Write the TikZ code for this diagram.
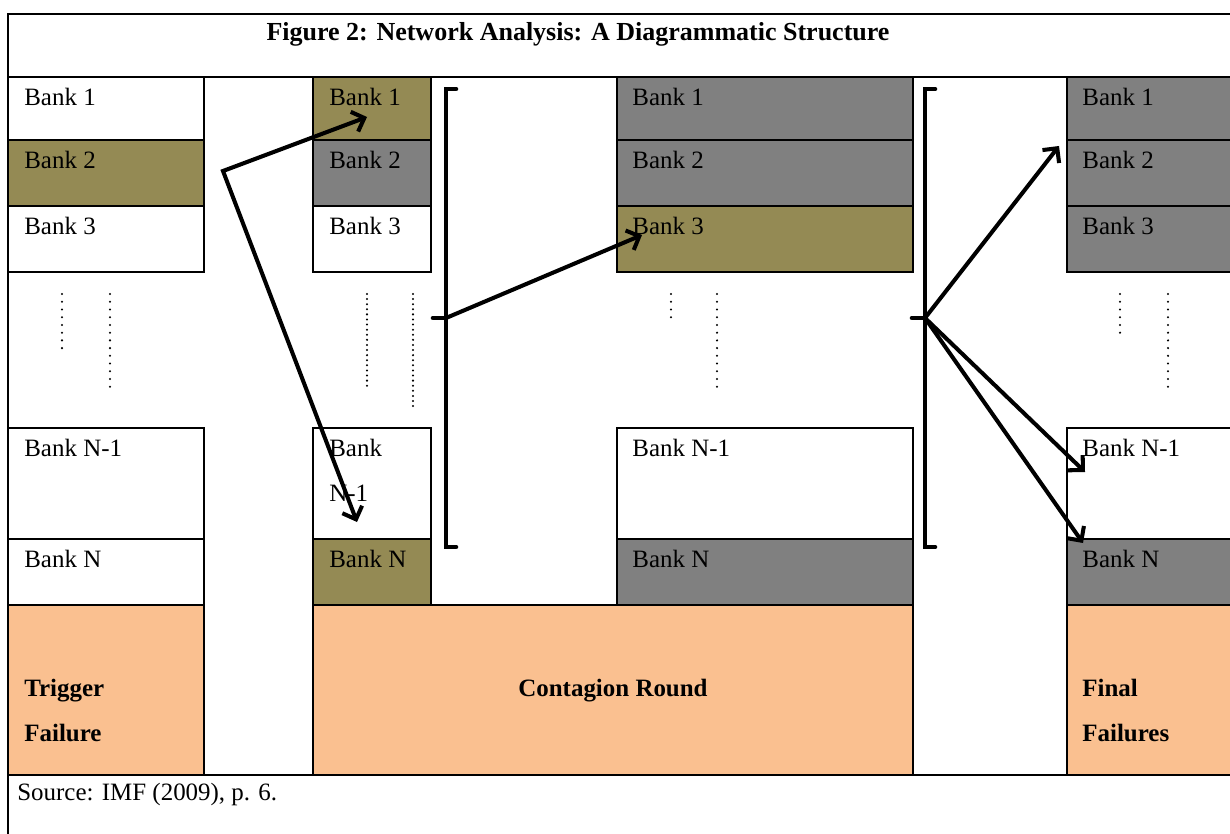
\documentclass[tikz,border=0pt]{standalone}
\usepackage{fontspec}
\setmainfont{Liberation Serif}
\usepackage{tikz}
\usetikzlibrary{arrows.meta,positioning}

\definecolor{olivecell}{HTML}{948A54}
\definecolor{graycell}{HTML}{808080}
\definecolor{peachcell}{HTML}{FAC090}
\newcommand{\banksize}{\fontsize{14.2}{25.6}\selectfont}

\begin{document}
\begin{tikzpicture}[
    x=0.02cm, y=-0.02cm,
    cell/.style={draw, line width=0.8pt},
    frame/.style={line width=0.85pt},
    btxt/.style={anchor=north west, inner sep=0pt, align=left, font=\banksize},
    stagetxt/.style={anchor=north west, inner sep=0pt, align=left, font=\banksize\bfseries},
    dotline/.style={line width=1.3pt, line cap=round, dash pattern=on 0pt off 4.4pt},
    densedot/.style={line width=1.3pt, line cap=round, dash pattern=on 0pt off 2.9pt},
    brk/.style={line width=2.6pt, line cap=round},
    arrow/.style={-{Straight Barb[length=6pt, width=12pt]}, line width=2.3pt}
]
    \clip (0,0) rectangle (1230,834);

    % column 1: trigger
    \draw[cell] (8,77) rectangle (204,140);
    \draw[cell, fill=olivecell] (8,140) rectangle (204,206);
    \draw[cell] (8,206) rectangle (204,272);
    \draw[cell] (8,428) rectangle (204,539);
    \draw[cell] (8,539) rectangle (204,605);
    \draw[cell, fill=peachcell] (8,605) rectangle (204,775);

    % column 2: first round
    \draw[cell, fill=olivecell] (313,77) rectangle (431,140);
    \draw[cell, fill=graycell] (313,140) rectangle (431,206);
    \draw[cell] (313,206) rectangle (431,272);
    \draw[cell] (313,428) rectangle (431,539);
    \draw[cell, fill=olivecell] (313,539) rectangle (431,605);
    \draw[cell, fill=peachcell] (313,605) rectangle (913,775);

    % column 3: second round
    \draw[cell, fill=graycell] (617,77) rectangle (913,140);
    \draw[cell, fill=graycell] (617,140) rectangle (913,206);
    \draw[cell, fill=olivecell] (617,206) rectangle (913,272);
    \draw[cell] (617,428) rectangle (913,539);
    \draw[cell, fill=graycell] (617,539) rectangle (913,605);

    % column 4: final
    \draw[cell, fill=graycell] (1067,77) rectangle (1245,140);
    \draw[cell, fill=graycell] (1067,140) rectangle (1245,206);
    \draw[cell, fill=graycell] (1067,206) rectangle (1245,272);
    \draw[cell] (1067,428) rectangle (1245,539);
    \draw[cell, fill=graycell] (1067,539) rectangle (1245,605);
    \draw[cell, fill=peachcell] (1067,605) rectangle (1245,775);

    % outer frame
    \draw[frame] (8,840) -- (8,14) -- (1240,14);
    \draw[frame] (8,77) -- (1240,77);
    \draw[frame] (8,775) -- (1240,775);

    \node[anchor=north, inner sep=0pt, font=\fontsize{14.8}{18}\selectfont\bfseries] (title) at (578,22) {Figure 2: Network Analysis: A Diagrammatic Structure};

    \node[btxt] (a1) at (24,88) {Bank 1};
    \node[btxt] (a2) at (24,151) {Bank 2};
    \node[btxt] (a3) at (24,217) {Bank 3};
    \node[btxt] (aN1) at (24,439) {Bank N-1};
    \node[btxt] (aN) at (24,550) {Bank N};

    \node[btxt] (b1) at (329,88) {Bank 1};
    \node[btxt] (b2) at (329,151) {Bank 2};
    \node[btxt] (b3) at (329,217) {Bank 3};
    \node[btxt] (bN1) at (329,439) {Bank\\N-1};
    \node[btxt] (bN) at (329,550) {Bank N};

    \node[btxt] (c1) at (632,88) {Bank 1};
    \node[btxt] (c2) at (632,151) {Bank 2};
    \node[btxt] (c3) at (632,217) {Bank 3};
    \node[btxt] (cN1) at (632,439) {Bank N-1};
    \node[btxt] (cN) at (632,550) {Bank N};

    \node[btxt] (d1) at (1082,88) {Bank 1};
    \node[btxt] (d2) at (1082,151) {Bank 2};
    \node[btxt] (d3) at (1082,217) {Bank 3};
    \node[btxt] (dN1) at (1082,439) {Bank N-1};
    \node[btxt] (dN) at (1082,550) {Bank N};

    \node[stagetxt] (trigger) at (24,679) {Trigger\\Failure};
    \node[anchor=north, inner sep=0pt, font=\banksize\bfseries] (round) at (613,679) {Contagion Round};
    \node[stagetxt] (final) at (1082,679) {Final\\Failures};

    \node[btxt] (source) at (17,783) {Source: IMF (2009), p. 6.};

    % vertical dots
    \draw[dotline] (62,294) -- (62,355);
    \draw[dotline] (110,294) -- (110,394);
    \draw[densedot] (367,294) -- (367,389);
    \draw[densedot] (413,294) -- (413,408);
    \draw[dotline] (671,294) -- (671,322);
    \draw[dotline] (717,294) -- (717,393);
    \draw[dotline] (1120,294) -- (1120,340);
    \draw[dotline] (1168,294) -- (1168,393);

    % brackets
    \coordinate (brkA) at (446,318);
    \coordinate (brkB) at (925,318);
    \draw[brk] (456,89) -- (446,89) -- (446,547) -- (456,547);
    \draw[brk] (433,318) -- (brkA);
    \draw[brk] (935,89) -- (925,89) -- (925,547) -- (935,547);
    \draw[brk] (912,318) -- (brkB);

    % contagion arrows
    \coordinate (fork) at (223,171);
    \coordinate (hitB1) at (367,117);
    \coordinate (hitBN) at (357,522);
    \coordinate (hitC3) at (642,235);
    \coordinate (hitD2) at (1059,146);
    \coordinate (hitDN1) at (1085,472);
    \coordinate (hitDN) at (1083,543);

    \draw[arrow, {Straight Barb[length=6pt, width=12pt]}-{Straight Barb[length=6pt, width=12pt]}] (hitB1) -- (fork) -- (hitBN);
    \draw[arrow] (brkA) -- (hitC3);
    \draw[arrow] (brkB) -- (hitD2);
    \draw[arrow] (brkB) -- (hitDN1);
    \draw[arrow] (brkB) -- (hitDN);
\end{tikzpicture}
\end{document}
